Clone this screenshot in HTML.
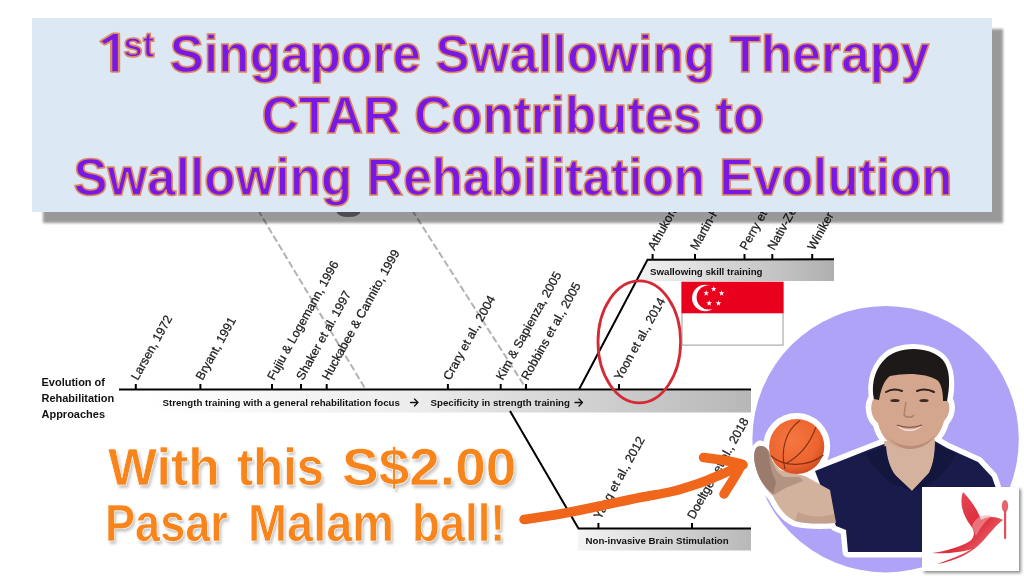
<!DOCTYPE html>
<html><head><meta charset="utf-8">
<style>
html,body{margin:0;padding:0;background:#fff;}
body{width:1024px;height:576px;overflow:hidden;position:relative;font-family:"Liberation Sans",sans-serif;}
.abs{position:absolute;}
#diagram{position:absolute;left:0;top:0;}
#title{position:absolute;left:32px;top:18px;width:960px;height:193.8px;background:#dde8f5;box-shadow:11px 11px 2.5px rgba(0,0,0,0.4);}
.tl{position:absolute;left:1px;width:960px;text-align:center;font-weight:bold;font-size:51px;line-height:51px;letter-spacing:0.1px;color:#7818e4;white-space:nowrap;-webkit-text-stroke:1.6px #dc8a62;text-shadow:0 0 1.5px rgba(246,186,160,0.9);}
.tl sup{font-size:35px;line-height:0;vertical-align:15.5px;margin-left:0px;margin-right:1px;letter-spacing:0px;}
.ot{position:absolute;font-weight:bold;font-size:51px;line-height:normal;color:#f7851b;white-space:nowrap;transform-origin:0 0;-webkit-text-stroke:0.6px #fff;text-shadow:2px 3px 3px rgba(0,0,0,0.22);}
</style></head><body>

<svg id="diagram" width="1024" height="576" viewBox="0 0 1024 576" font-family="Liberation Sans, sans-serif">
 <defs>
  <linearGradient id="g1" x1="147" x2="751" y1="0" y2="0" gradientUnits="userSpaceOnUse">
   <stop offset="0" stop-color="#ffffff"/><stop offset="0.45" stop-color="#ececec"/><stop offset="1" stop-color="#b7b7b7"/>
  </linearGradient>
  <linearGradient id="g2" x1="640" x2="834" y1="0" y2="0" gradientUnits="userSpaceOnUse">
   <stop offset="0" stop-color="#f2f2f2"/><stop offset="1" stop-color="#b0b0b0"/>
  </linearGradient>
  <linearGradient id="g3" x1="578" x2="751" y1="0" y2="0" gradientUnits="userSpaceOnUse">
   <stop offset="0" stop-color="#f4f4f4"/><stop offset="1" stop-color="#b8b8b8"/>
  </linearGradient>
  <polygon id="star5" points="0,-3 0.7,-0.95 2.85,-0.93 1.14,0.37 1.76,2.43 0,1.2 -1.76,2.43 -1.14,0.37 -2.85,-0.93 -0.7,-0.95"/>
 </defs>
 <!-- bars -->
 <rect x="147" y="390.5" width="604" height="22" fill="url(#g1)"/>
 <polygon points="648,260 834,260 834,281 637,281" fill="url(#g2)"/>
 <rect x="578" y="529" width="173" height="21.5" fill="url(#g3)"/>
 <ellipse cx="348.5" cy="211.5" rx="12" ry="5.5" fill="#808080"/>
 <!-- dashed -->
 <line x1="258" y1="210" x2="366" y2="390" stroke="#b3b3b3" stroke-width="2" stroke-dasharray="7,3"/>
 <line x1="412" y1="210" x2="527" y2="390" stroke="#b3b3b3" stroke-width="2" stroke-dasharray="7,3"/>
 <!-- axes -->
 <g stroke="#000" stroke-width="2" fill="none">
  <line x1="119" y1="389.5" x2="751" y2="389.5"/>
  <polyline points="579,389.5 647.5,259.8 834,259.3"/>
  <polyline points="510,411 578.5,528.5 751,528.5"/>
 </g>
 <g stroke="#000" stroke-width="2">
  <line x1="135.8" y1="384" x2="135.8" y2="389"/>
  <line x1="200.4" y1="384" x2="200.4" y2="389"/>
  <line x1="272" y1="384" x2="272" y2="389"/>
  <line x1="301" y1="384" x2="301" y2="389"/>
  <line x1="326.7" y1="384" x2="326.7" y2="389"/>
  <line x1="447.9" y1="384" x2="447.9" y2="389"/>
  <line x1="500.7" y1="384" x2="500.7" y2="389"/>
  <line x1="526" y1="384" x2="526" y2="389"/>
  <line x1="619" y1="384" x2="619" y2="389"/>
  <line x1="652.6" y1="254" x2="652.6" y2="259"/>
  <line x1="695" y1="254" x2="695" y2="259"/>
  <line x1="744.5" y1="254" x2="744.5" y2="259"/>
  <line x1="772.3" y1="254" x2="772.3" y2="259"/>
  <line x1="812.2" y1="254" x2="812.2" y2="259"/>
  <line x1="598.4" y1="523" x2="598.4" y2="528"/>
  <line x1="692" y1="523" x2="692" y2="528"/>
 </g>
 <!-- labels -->
 <g font-size="12.3" fill="#1a1a1a" stroke="#1a1a1a" stroke-width="0.25">
  <text transform="translate(137.8,381) rotate(-61)">Larsen, 1972</text>
  <text transform="translate(202.4,381) rotate(-61)">Bryant, 1991</text>
  <text transform="translate(274.0,381) rotate(-61)">Fujiu &amp; Logemann, 1996</text>
  <text transform="translate(303.0,381) rotate(-61)">Shaker et al. 1997</text>
  <text transform="translate(328.7,381) rotate(-61)">Huckabee &amp; Cannito, 1999</text>
  <text transform="translate(449.9,381) rotate(-61)">Crary et al., 2004</text>
  <text transform="translate(502.7,381) rotate(-61)">Kim &amp; Sapienza, 2005</text>
  <text transform="translate(528.0,381) rotate(-61)">Robbins et al., 2005</text>
  <text transform="translate(621.0,381) rotate(-61)">Yoon et al., 2014</text>
  <text transform="translate(654.6,251) rotate(-61)">Athukorala et al., 2014</text>
  <text transform="translate(697.0,251) rotate(-61)">Martin-Harris et al., 2015</text>
  <text transform="translate(746.5,251) rotate(-61)">Perry et al., 2016</text>
  <text transform="translate(774.3,251) rotate(-61)">Nativ-Zeltzer et al., 2016</text>
  <text transform="translate(814.2,251) rotate(-61)">Winiker et al., 2018</text>
  <text transform="translate(600.4,520) rotate(-61)">Yang et al., 2012</text>
  <text transform="translate(694.0,520) rotate(-61)">Doeltgen et al., 2018</text>
 </g>
 <g font-weight="bold" fill="#111">
  <g font-size="10">
   <text transform="translate(41.5,385.7) scale(1.1,1)">Evolution of</text>
   <text transform="translate(41.5,402.3) scale(1.1,1)">Rehabilitation</text>
   <text transform="translate(41.5,418.2) scale(1.1,1)">Approaches</text>
  </g>
  <g font-size="9.7">
   <text x="162.5" y="406.3">Strength training with a general rehabilitation focus</text>
   <text x="430.5" y="406.3">Specificity in strength training</text>
   <text x="650" y="274.5">Swallowing skill training</text>
   <text x="585.5" y="544">Non-invasive Brain Stimulation</text>
  </g>
 </g>
 <g fill="none" stroke="#111" stroke-width="1.3" stroke-linecap="round" stroke-linejoin="round">
  <path d="M410.5,402.5 H418 M414.5,399 L418,402.5 L414.5,406"/>
  <path d="M575,402.5 H582.5 M579,399 L582.5,402.5 L579,406"/>
 </g>
 <!-- ellipse -->
 <ellipse cx="639.3" cy="341.8" rx="41.3" ry="61" fill="none" stroke="#d42a35" stroke-width="2.8"/>
 <!-- flag -->
 <rect x="682" y="282.3" width="101" height="62.8" fill="#fff" stroke="#9a9a9a" stroke-width="1"/>
 <rect x="681.5" y="281.8" width="102" height="31.5" fill="#e8001c"/>
 <circle cx="705.2" cy="298" r="13.2" fill="#fff"/>
 <circle cx="708.8" cy="297.4" r="12.2" fill="#e8001c"/>
 <g fill="#fff">
  <use href="#star5" x="713.7" y="289"/>
  <use href="#star5" x="706.2" y="293.2"/>
  <use href="#star5" x="721.6" y="293.2"/>
  <use href="#star5" x="709.2" y="303.3"/>
  <use href="#star5" x="718.4" y="303.3"/>
 </g>
</svg>

<div id="title">
 <div class="tl" style="top:11px;left:-1px"><span style="font-family:NanumGothic,'Liberation Sans',sans-serif;display:inline-block;transform:scaleX(1.45);transform-origin:0 0;position:relative;left:-1px">1</span><sup>st</sup> <span style="letter-spacing:0.22px">Singapore Swallowing Therapy</span></div>
 <div class="tl" style="top:72px">CTAR Contributes to</div>
 <div class="tl" style="top:133.5px">Swallowing Rehabilitation Evolution</div>
</div>

<div class="ot" style="left:107.6px;top:438px;transform:scaleX(1.0178)">With</div>
<div class="ot" style="left:237px;top:438px;transform:scaleX(0.9586)">this</div>
<div class="ot" style="left:341.8px;top:438px;transform:scaleX(1.0783)">S$2.00</div>
<div class="ot" style="left:105px;top:493.5px;transform:scaleX(0.8844)">Pasar</div>
<div class="ot" style="left:248.4px;top:493.5px;transform:scaleX(0.9203)">Malam</div>
<div class="ot" style="left:411.8px;top:493.5px;transform:scaleX(0.8918)">ball!</div>

<svg class="abs" style="left:0;top:0" width="1024" height="576" viewBox="0 0 1024 576">
 <defs>
  <radialGradient id="ballg" cx="0.42" cy="0.38" r="0.62">
   <stop offset="0" stop-color="#f47840"/><stop offset="0.75" stop-color="#ee6430"/><stop offset="1" stop-color="#d24e22"/>
  </radialGradient>
  <linearGradient id="skin" x1="0" y1="0" x2="1" y2="0">
   <stop offset="0" stop-color="#a88270"/><stop offset="1" stop-color="#d9b6a2"/>
  </linearGradient>
  <g id="body">
   <path d="M815,471 L830,465 L848,458 L868,450 L884,444 L933,440 L947,448 L978,462 L992,477 L1000,500 L1003,552 L848,552 L846,530 L836,526 L826,500 Z"/>
   <path d="M760,446 C755,450 753,458 756,468 C759,480 766,490 773,496 C778,506 784,516 795,521 C806,524 818,524 836,523 L830,490 L805,476 L780,470 Z"/>
   <path d="M874,394 C872,374 882,357 897,352 C912,347 932,350 941,359 C950,369 950,386 947,400 C951,405 950,415 944,421 C940,437 928,448 909,449 C891,449 881,437 878,423 C871,418 869,405 874,398 Z"/>
   <circle cx="796.7" cy="446.5" r="28"/>
  </g>
 </defs>
 <circle cx="885.6" cy="439.2" r="133.2" fill="#afa3f8"/>
 <use href="#body" fill="#fff" stroke="#fff" stroke-width="11" stroke-linejoin="round"/>
 <!-- shirt -->
 <path d="M815,471 L830,465 L848,458 L868,450 L884,444 L933,440 L947,448 L978,462 L992,477 L1000,500 L1003,552 L848,552 L846,530 L836,526 L826,500 Z" fill="#191b4b"/>
 <!-- neck -->
 <path d="M884,441 L935,439 C935,454 933,465 929,473 L912,491 L893,473 C888,465 885,454 884,441 Z" fill="#d5b29e"/>
 <path d="M866,454 L886,446 C887,458 890,468 896,476 L912,491 L893,484 C882,476 872,466 866,454 Z M936,444 L956,454 C950,466 940,477 930,484 L912,491 L929,473 C933,465 935,455 936,444 Z" fill="#13163d"/>
 <!-- arm -->
 <path d="M760,446 C755,450 753,458 756,468 C759,480 766,490 773,496 C778,506 784,516 795,521 C806,524 818,524 836,523 L830,490 L805,476 L780,470 Z" fill="#d2b19d"/>
 <path d="M795,521 C806,524 818,524 836,523 L834,514 C822,518 808,517 798,512 Z" fill="#b89482" opacity="0.6"/>
 <!-- ball -->
 <circle cx="796.7" cy="446.5" r="27.6" fill="url(#ballg)"/>
 <g fill="none" stroke="#7a2a12" stroke-width="1.1" opacity="0.9">
  <path d="M800,420.5 C786,430 780,450 785,469"/>
  <path d="M816,427 C811,441 801,455 787,463"/>
  <path d="M770,455 C784,468 808,467 823.5,455"/>
 </g>
 <path d="M757,447 C763,444 769,448 771,456 C773,466 777,473 784,477 L800,477 L803,481 C796,484 788,486 782,490 L774,495 C766,489 759,480 756,468 C753,458 754,450 757,447 Z" fill="#b39483"/>
 <path d="M757,447 C763,444 768,448 769,456 C770,466 772,474 776,482 L773,494 C766,488 759,480 756,468 C753,458 754,450 757,447 Z" fill="#9a7b6c"/>
 <!-- head -->
 <path d="M874,394 C872,374 882,357 897,352 C912,347 932,350 941,359 C950,369 950,386 947,400 C951,405 950,415 944,421 C940,437 928,448 909,449 C891,449 881,437 878,423 C871,418 869,405 874,398 Z" fill="#d3a68d"/>
 <path d="M884,432 C892,444 902,449 910,449 C920,449 930,444 936,434 C930,442 920,446 910,446 C900,446 890,441 884,432 Z" fill="#b98d76"/>
 <path d="M874,399 C870,380 878,359 896,352 C912,346 932,349 942,359 C951,369 950,386 947,401 L943,401 C943,391 941,383 937,380 C928,374 908,372 890,376 C884,380 881,389 879,400 Z" fill="#1c1918"/>
 <g fill="none" stroke="#2e211c" stroke-width="2" stroke-linecap="round">
  <path d="M886,392 C891,389 897,389 902,391"/>
  <path d="M917,391 C922,389 928,389 934,392"/>
 </g>
 <g fill="#3a2a24">
  <ellipse cx="895" cy="400.5" rx="4.6" ry="1.5"/>
  <ellipse cx="924" cy="400.5" rx="4.6" ry="1.5"/>
 </g>
 <path d="M906,402 L904,415 C906,418 912,418 914,415" fill="none" stroke="#b07e68" stroke-width="1.4"/>
 <path d="M897,425 C904,431 915,431 922,425 C917,433 902,433 897,425 Z" fill="#f1e4dc"/>
 <path d="M897,425 C904,428 915,428 922,425" fill="none" stroke="#7a4a3e" stroke-width="1.2"/>
</svg>

<svg class="abs" style="left:0;top:0" width="1024" height="576" viewBox="0 0 1024 576">
 <g fill="none" stroke="#f0661a" stroke-width="9.5" stroke-linecap="round" stroke-linejoin="round">
  <path d="M524,519.5 C530.0,518.6 547.3,516.2 560,514 C572.7,511.8 586.7,508.8 600,506 C613.3,503.2 628.0,499.9 640,497.5 C652.0,495.1 662.0,493.9 672,491.5 C682.0,489.1 691.8,485.8 700,483 C708.2,480.2 713.8,477.5 721,474.5 C728.2,471.5 739.3,466.6 743,465"/>
  <path d="M703.5,457.5 C716,459 730,461 742,464 C736,476 729,486 724,494"/>
 </g>
</svg>

<div class="abs" style="left:922px;top:487px;width:97px;height:84px;background:#fff;box-shadow:2px 2px 3px rgba(0,0,0,0.45);">
 <svg width="97" height="84" viewBox="922 487 97 84">
  <defs>
   <linearGradient id="bird" x1="0" y1="0" x2="1" y2="1">
    <stop offset="0" stop-color="#ea5a66"/><stop offset="0.55" stop-color="#dc2c3a"/><stop offset="1" stop-color="#f39a9c"/>
   </linearGradient>
  </defs>
  <path d="M963,492 C959,503 963,516 971,526 C975,531 975,537 970,541 C960,547 946,551 932,553 C948,554 962,552 972,549 C962,555 950,559 937,564 C956,561 972,553 983,541 C990,533 996,525 1003,520 C996,516 988,516 981,520 C978,511 972,501 963,492 Z" fill="url(#bird)"/>
  <path d="M972,526 C976,516 984,514 992,516 C986,520 980,528 976,536 Z" fill="#f4a0a4" opacity="0.6"/>
  <ellipse cx="1005" cy="506" rx="3.2" ry="6" fill="#e4646c"/>
  <rect x="1004" y="510" width="2.2" height="29" rx="1" fill="#e0505a"/>
 </svg>
</div>

</body></html>
